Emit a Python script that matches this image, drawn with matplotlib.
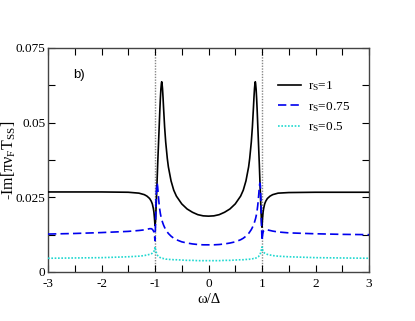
import matplotlib
matplotlib.use("Agg")
import matplotlib.pyplot as plt
from matplotlib.ticker import MultipleLocator, FixedLocator

plt.rcParams['font.family'] = ['Liberation Serif', 'DejaVu Serif']
plt.rcParams['mathtext.fontset'] = 'custom'
plt.rcParams['mathtext.rm'] = 'Liberation Serif'
plt.rcParams['mathtext.it'] = 'Liberation Serif'

omega = [-3, -2.5, -2, -1.5, -1.3, -1.2, -1.15, -1.1, -1.07, -1.05, -1.03, -1.02, -1.01, -1.0,
         -0.99, -0.98, -0.97, -0.96, -0.95, -0.94, -0.93, -0.92, -0.91, -0.9, -0.89, -0.88,
         -0.875, -0.87, -0.86, -0.85, -0.84, -0.82, -0.8, -0.77, -0.75, -0.7, -0.65, -0.6,
         -0.5, -0.4, -0.3, -0.2, -0.1, 0,
         0.1, 0.2, 0.3, 0.4, 0.5, 0.6, 0.65, 0.7, 0.75, 0.77, 0.8, 0.82, 0.84, 0.85, 0.86,
         0.87, 0.875, 0.88, 0.89, 0.9, 0.91, 0.92, 0.93, 0.94, 0.95, 0.96, 0.97, 0.98, 0.99,
         1.0, 1.01, 1.02, 1.03, 1.05, 1.07, 1.1, 1.15, 1.2, 1.3, 1.5, 2, 2.5, 3]

rs_1 = [0.0268, 0.0268, 0.0268, 0.0267, 0.0264, 0.0259, 0.0254, 0.0246, 0.0237, 0.0228, 0.0212,
        0.0200, 0.0180, 0.0155,
        0.0170, 0.0215, 0.0260, 0.0310, 0.0360, 0.0405, 0.0450, 0.0495, 0.0540, 0.0580, 0.0612,
        0.0632, 0.0637, 0.0634, 0.0615, 0.0585, 0.0550, 0.0485, 0.0435, 0.0380, 0.0352, 0.0305,
        0.0274, 0.0254, 0.0228, 0.0211, 0.0200, 0.0192, 0.0188, 0.0187,
        0.0188, 0.0192, 0.0200, 0.0211, 0.0228, 0.0254, 0.0274, 0.0305, 0.0352, 0.0380, 0.0435,
        0.0485, 0.0550, 0.0585, 0.0615, 0.0634, 0.0637, 0.0632, 0.0612, 0.0580, 0.0540, 0.0495,
        0.0450, 0.0405, 0.0360, 0.0310, 0.0260, 0.0215, 0.0170,
        0.0150, 0.0180, 0.0200, 0.0212, 0.0228, 0.0237, 0.0246, 0.0254, 0.0259, 0.0264, 0.0266,
        0.0267, 0.0267, 0.0267]

rs_075 = [0.0127, 0.0129, 0.0132, 0.0136, 0.0139, 0.0141, 0.0143, 0.0145, 0.0145, 0.0143, 0.0138,
          0.0133, 0.0122, 0.0105,
          0.0160, 0.0240, 0.0290, 0.0298, 0.0285, 0.0262, 0.0240, 0.0222, 0.0208, 0.0196, 0.0187,
          0.0179, 0.0176, 0.0173, 0.0167, 0.0162, 0.0157, 0.0149, 0.0142, 0.0134, 0.0129, 0.0120,
          0.0113, 0.0108, 0.0101, 0.0097, 0.0094, 0.0092, 0.0091, 0.0091,
          0.0091, 0.0092, 0.0094, 0.0097, 0.0101, 0.0108, 0.0113, 0.0120, 0.0129, 0.0134, 0.0142,
          0.0149, 0.0157, 0.0162, 0.0167, 0.0173, 0.0176, 0.0179, 0.0187, 0.0196, 0.0208, 0.0222,
          0.0240, 0.0262, 0.0285, 0.0298, 0.0290, 0.0240, 0.0160,
          0.0105, 0.0122, 0.0133, 0.0138, 0.0141, 0.0142, 0.0141, 0.0139, 0.0137, 0.0134, 0.0131,
          0.0128, 0.0126, 0.0125]

rs_05 = [0.0046, 0.0047, 0.0048, 0.0051, 0.0053, 0.0055, 0.0057, 0.0059, 0.0061, 0.0063, 0.0066,
         0.0069, 0.0074, 0.0084,
         0.0076, 0.0068, 0.0062, 0.0058, 0.0055, 0.0053, 0.0051, 0.0050, 0.0049, 0.0048, 0.0047,
         0.0047, 0.0046, 0.0046, 0.0046, 0.0045, 0.0045, 0.0044, 0.0043, 0.0043, 0.0042, 0.0042,
         0.0041, 0.0041, 0.0040, 0.0039, 0.0039, 0.0038, 0.0038, 0.0038,
         0.0038, 0.0038, 0.0039, 0.0039, 0.0040, 0.0041, 0.0041, 0.0042, 0.0042, 0.0043, 0.0043,
         0.0044, 0.0045, 0.0045, 0.0046, 0.0046, 0.0046, 0.0047, 0.0047, 0.0048, 0.0049, 0.0050,
         0.0051, 0.0053, 0.0055, 0.0058, 0.0062, 0.0068, 0.0076,
         0.0084, 0.0074, 0.0069, 0.0066, 0.0063, 0.0061, 0.0059, 0.0057, 0.0055, 0.0053, 0.0051,
         0.0048, 0.0047, 0.0046]

labels = ['r$_\\mathrm{S}$=1', 'r$_\\mathrm{S}$=0.75', 'r$_\\mathrm{S}$=0.5']
x_ticks = [-3, -2, -1, 0, 1, 2, 3]
y_ticks = [0, 0.025, 0.05, 0.075]
y_tick_labels = ['0', '0.025', '0.05', '0.075']
gap_edges = [-1, 1]

fig = plt.figure(figsize=(4.15, 3.21), dpi=100)
ax = fig.add_axes([48/415, 1-272/321, 321/415, 224/321])

for g in gap_edges:
    ax.axvline(g, color='#888888', lw=1.0, ls=(0, (1, 1)), zorder=1)

ax.plot(omega, rs_1, color='black', lw=1.2, label=labels[0], zorder=3)
ax.plot(omega, rs_075, color='#0000ee', lw=1.2, ls=(0, (5, 2.5)), label=labels[1], zorder=3)
ax.plot(omega, rs_05, color='#20d8d0', lw=1.2, ls=(0, (1, 1)), label=labels[2], zorder=3)

ax.set_xlim(-3, 3)
ax.set_ylim(0, 0.075)
ax.xaxis.set_major_locator(FixedLocator(x_ticks))
ax.xaxis.set_minor_locator(MultipleLocator(0.5))
ax.yaxis.set_major_locator(FixedLocator(y_ticks))
ax.yaxis.set_minor_locator(MultipleLocator(0.0125))
ax.set_xticklabels([str(t) for t in x_ticks])
ax.set_yticklabels(y_tick_labels)
ax.tick_params(which='both', direction='in', top=True, right=True, length=5, width=0.8,
               labelsize=9.5, colors='black')
ax.tick_params(axis='y', pad=2)
ax.tick_params(axis='x', pad=4.5)
for s in ax.spines.values():
    s.set_linewidth(1.0)
    s.set_color('#444444')

ax.set_xlabel('ω/Δ', fontsize=10.5, labelpad=2)
ax.set_ylabel('-Im[πν$_\\mathrm{F}$T$_\\mathrm{SS}$]', fontsize=11.5, labelpad=-2)

ax.text(0.078, 0.88, 'b)', transform=ax.transAxes, fontsize=9.5, family='Liberation Sans',
        va='center', ha='left')

leg = ax.legend(loc='upper right', bbox_to_anchor=(0.97, 0.90), frameon=False, fontsize=9.5,
                handlelength=1.7, handletextpad=0.55, labelspacing=0.5, borderaxespad=0.3)

fig.savefig('out.png', dpi=100)
